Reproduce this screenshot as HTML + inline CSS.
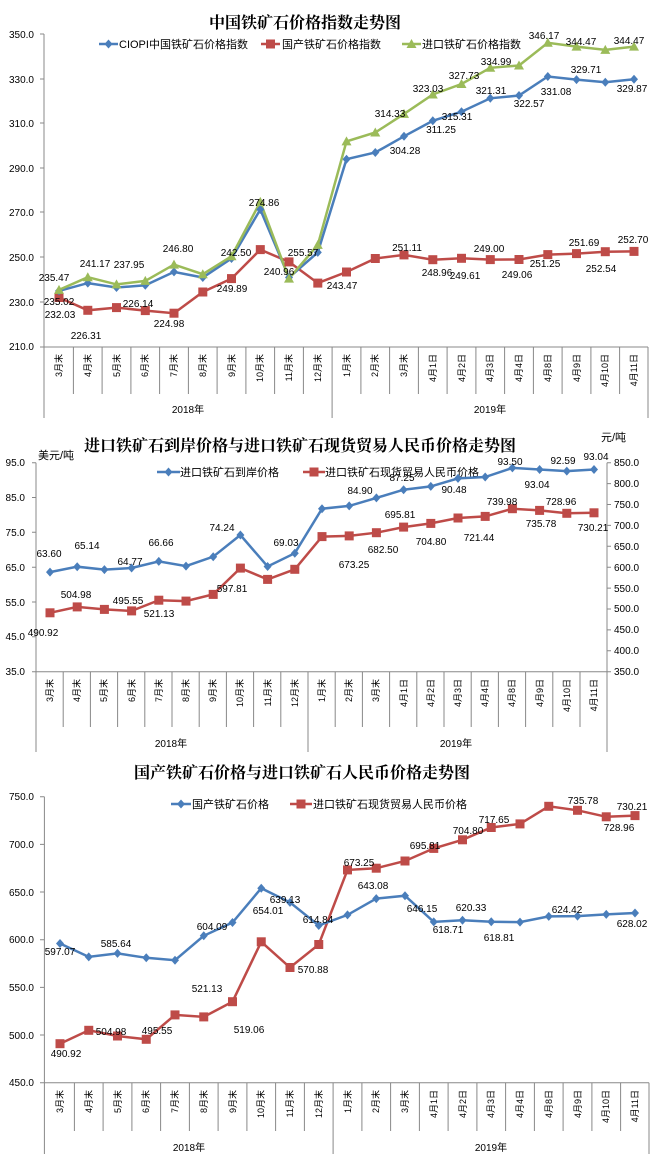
<!DOCTYPE html>
<html><head><meta charset="utf-8"><style>
body{margin:0;background:#fff}
svg{display:block}
text{font-family:"Liberation Sans","Noto Sans CJK SC",sans-serif;fill:#000}
.t{font-family:"Liberation Serif","Noto Serif CJK SC",serif;font-weight:bold;font-size:16px}
.ax{font-size:10px}
.dl{font-size:10px;text-anchor:middle}
.lg{font-size:11px}
.cat{font-size:9px;text-anchor:end}
.b{fill:none;stroke:#4a7ebb;stroke-width:2.5}
.r{fill:none;stroke:#be4b48;stroke-width:2.5}
.g{fill:none;stroke:#9bbb59;stroke-width:2.5}
.gl{stroke:#888;stroke-width:1;fill:none}
</style></head><body>
<svg width="650" height="1165" viewBox="0 0 650 1165" xmlns="http://www.w3.org/2000/svg">
<defs>
<path id="md" d="M0,-4.5L4,0L0,4.5L-4,0Z" fill="#4a7ebb"/>
<rect id="ms" x="-4.5" y="-4.5" width="9" height="9" fill="#be4b48"/>
<path id="mt" d="M0,-5L5,4L-5,4Z" fill="#9bbb59"/>
</defs>

<!-- ================= CHART 1 ================= -->
<text class="t" x="305" y="28" text-anchor="middle" font-size="17">中国铁矿石价格指数走势图</text>
<g class="ax" text-anchor="end">
<text x="34" y="38">350.0</text><text x="34" y="83">330.0</text><text x="34" y="127">310.0</text><text x="34" y="172">290.0</text><text x="34" y="216">270.0</text><text x="34" y="261">250.0</text><text x="34" y="306">230.0</text><text x="34" y="350">210.0</text>
</g>
<path class="gl" d="M40,34H44M40,79H44M40,123H44M40,168H44M40,212H44M40,257H44M40,302H44M40,347H44M44,34V418M44,347H648"/>
<path class="gl" d="M73.4,347V394M102.1,347V394M130.9,347V394M159.6,347V394M188.4,347V394M217.1,347V394M245.9,347V394M274.6,347V394M303.4,347V394M332.1,347V418M360.9,347V394M389.6,347V394M418.4,347V394M447.1,347V394M475.9,347V394M504.6,347V394M533.4,347V394M562.1,347V394M590.9,347V394M619.6,347V394M648,347V418"/>
<g class="cat">
<text transform="translate(62,354) rotate(-90)">3月末</text><text transform="translate(91,354) rotate(-90)">4月末</text><text transform="translate(120,354) rotate(-90)">5月末</text><text transform="translate(148,354) rotate(-90)">6月末</text><text transform="translate(177,354) rotate(-90)">7月末</text><text transform="translate(206,354) rotate(-90)">8月末</text><text transform="translate(235,354) rotate(-90)">9月末</text><text transform="translate(263,354) rotate(-90)">10月末</text><text transform="translate(292,354) rotate(-90)">11月末</text><text transform="translate(321,354) rotate(-90)">12月末</text><text transform="translate(350,354) rotate(-90)">1月末</text><text transform="translate(378,354) rotate(-90)">2月末</text><text transform="translate(407,354) rotate(-90)">3月末</text><text transform="translate(436,354) rotate(-90)">4月1日</text><text transform="translate(465,354) rotate(-90)">4月2日</text><text transform="translate(493,354) rotate(-90)">4月3日</text><text transform="translate(522,354) rotate(-90)">4月4日</text><text transform="translate(551,354) rotate(-90)">4月8日</text><text transform="translate(580,354) rotate(-90)">4月9日</text><text transform="translate(608,354) rotate(-90)">4月10日</text><text transform="translate(637,354) rotate(-90)">4月11日</text>
</g>
<text class="ax" x="188" y="413" text-anchor="middle">2018年</text>
<text class="ax" x="490" y="413" text-anchor="middle">2019年</text>
<!-- legend -->
<path d="M99,44H118" stroke="#4a7ebb" stroke-width="2.5"/><use href="#md" x="108.5" y="44"/><text class="lg" x="119" y="48">CIOPI中国铁矿石价格指数</text>
<path d="M261,44H280" stroke="#be4b48" stroke-width="2.5"/><use href="#ms" x="270.5" y="44"/><text class="lg" x="282" y="48">国产铁矿石价格指数</text>
<path d="M402,44H421" stroke="#9bbb59" stroke-width="2.5"/><use href="#mt" x="411.5" y="44"/><text class="lg" x="422" y="48">进口铁矿石价格指数</text>
<!-- series -->
<polyline class="r" points="59,297.5 87.8,310.3 116.5,307.6 145.3,310.6 174,313.2 202.8,292 231.5,278.6 260.3,249.6 289,261.9 317.8,283.1 346.5,272 375.3,258.5 404,254.9 432.8,259.7 461.5,258.3 490.3,259.6 519,259.5 547.8,254.6 576.5,253.6 605.3,251.7 634,251.4"/>
<polyline class="b" points="59,290.9 87.8,283.1 116.5,287.5 145.3,285.3 174,271.9 202.8,277.5 231.5,258.5 260.3,209.5 289,277.5 317.8,252.4 346.5,159.2 375.3,152.5 404,136.3 432.8,120.8 461.5,111.7 490.3,98.3 519,95.5 547.8,76.5 576.5,79.6 605.3,82.3 634,79.2"/>
<polyline class="g" points="59,289.9 87.8,277.2 116.5,284.4 145.3,280.9 174,264.6 202.8,274.2 231.5,256.3 260.3,201.9 289,278.6 317.8,244.9 346.5,141.4 375.3,132.5 404,113.9 432.8,94.5 461.5,84 490.3,67.8 519,65.5 547.8,42.8 576.5,46.6 605.3,49.9 634,46.6"/>
<g>
<use href="#ms" x="59" y="297.5"/><use href="#ms" x="87.8" y="310.3"/><use href="#ms" x="116.5" y="307.6"/><use href="#ms" x="145.3" y="310.6"/><use href="#ms" x="174" y="313.2"/><use href="#ms" x="202.8" y="292"/><use href="#ms" x="231.5" y="278.6"/><use href="#ms" x="260.3" y="249.6"/><use href="#ms" x="289" y="261.9"/><use href="#ms" x="317.8" y="283.1"/><use href="#ms" x="346.5" y="272"/><use href="#ms" x="375.3" y="258.5"/><use href="#ms" x="404" y="254.9"/><use href="#ms" x="432.8" y="259.7"/><use href="#ms" x="461.5" y="258.3"/><use href="#ms" x="490.3" y="259.6"/><use href="#ms" x="519" y="259.5"/><use href="#ms" x="547.8" y="254.6"/><use href="#ms" x="576.5" y="253.6"/><use href="#ms" x="605.3" y="251.7"/><use href="#ms" x="634" y="251.4"/>
<use href="#md" x="59" y="290.9"/><use href="#md" x="87.8" y="283.1"/><use href="#md" x="116.5" y="287.5"/><use href="#md" x="145.3" y="285.3"/><use href="#md" x="174" y="271.9"/><use href="#md" x="202.8" y="277.5"/><use href="#md" x="231.5" y="258.5"/><use href="#md" x="260.3" y="209.5"/><use href="#md" x="289" y="277.5"/><use href="#md" x="317.8" y="252.4"/><use href="#md" x="346.5" y="159.2"/><use href="#md" x="375.3" y="152.5"/><use href="#md" x="404" y="136.3"/><use href="#md" x="432.8" y="120.8"/><use href="#md" x="461.5" y="111.7"/><use href="#md" x="490.3" y="98.3"/><use href="#md" x="519" y="95.5"/><use href="#md" x="547.8" y="76.5"/><use href="#md" x="576.5" y="79.6"/><use href="#md" x="605.3" y="82.3"/><use href="#md" x="634" y="79.2"/>
<use href="#mt" x="59" y="289.9"/><use href="#mt" x="87.8" y="277.2"/><use href="#mt" x="116.5" y="284.4"/><use href="#mt" x="145.3" y="280.9"/><use href="#mt" x="174" y="264.6"/><use href="#mt" x="202.8" y="274.2"/><use href="#mt" x="231.5" y="256.3"/><use href="#mt" x="260.3" y="201.9"/><use href="#mt" x="289" y="278.6"/><use href="#mt" x="317.8" y="244.9"/><use href="#mt" x="346.5" y="141.4"/><use href="#mt" x="375.3" y="132.5"/><use href="#mt" x="404" y="113.9"/><use href="#mt" x="432.8" y="94.5"/><use href="#mt" x="461.5" y="84"/><use href="#mt" x="490.3" y="67.8"/><use href="#mt" x="519" y="65.5"/><use href="#mt" x="547.8" y="42.8"/><use href="#mt" x="576.5" y="46.6"/><use href="#mt" x="605.3" y="49.9"/><use href="#mt" x="634" y="46.6"/>
</g>
<g class="dl">
<text x="54" y="281">235.47</text><text x="95" y="267">241.17</text><text x="129" y="268">237.95</text><text x="178" y="252">246.80</text><text x="236" y="256">242.50</text><text x="264" y="206">274.86</text><text x="303" y="256">255.57</text><text x="390" y="117">314.33</text><text x="428" y="92">323.03</text><text x="464" y="79">327.73</text><text x="496" y="65">334.99</text><text x="544" y="39">346.17</text><text x="581" y="45">344.47</text><text x="629" y="44">344.47</text>
<text x="59" y="305">235.02</text><text x="60" y="318">232.03</text><text x="86" y="339">226.31</text><text x="138" y="307">226.14</text><text x="169" y="327">224.98</text><text x="232" y="292">249.89</text><text x="279" y="275">240.96</text><text x="342" y="289">243.47</text><text x="407" y="251">251.11</text><text x="489" y="252">249.00</text><text x="584" y="246">251.69</text><text x="633" y="243">252.70</text><text x="437" y="276">248.96</text><text x="465" y="279">249.61</text><text x="517" y="278">249.06</text><text x="545" y="267">251.25</text><text x="601" y="272">252.54</text>
<text x="405" y="154">304.28</text><text x="441" y="133">311.25</text><text x="457" y="120">315.31</text><text x="491" y="94">321.31</text><text x="529" y="107">322.57</text><text x="556" y="95">331.08</text><text x="586" y="73">329.71</text><text x="632" y="92">329.87</text>
</g>

<!-- ================= CHART 2 ================= -->
<text class="t" x="300" y="451" text-anchor="middle">进口铁矿石到岸价格与进口铁矿石现货贸易人民币价格走势图</text>
<text class="lg" x="38" y="459" font-size="12">美元/吨</text>
<text class="lg" x="601" y="441" font-size="12">元/吨</text>
<g class="ax" text-anchor="end">
<text x="25" y="466">95.0</text><text x="25" y="501">85.0</text><text x="25" y="536">75.0</text><text x="25" y="571">65.0</text><text x="25" y="606">55.0</text><text x="25" y="640">45.0</text><text x="25" y="675">35.0</text>
</g>
<g class="ax">
<text x="614" y="466">850.0</text><text x="614" y="487">800.0</text><text x="614" y="508">750.0</text><text x="614" y="529">700.0</text><text x="614" y="550">650.0</text><text x="614" y="571">600.0</text><text x="614" y="592">550.0</text><text x="614" y="612">500.0</text><text x="614" y="633">450.0</text><text x="614" y="654">400.0</text><text x="614" y="675">350.0</text>
</g>
<path class="gl" d="M32,462.7H36M32,497.5H36M32,532.3H36M32,567.2H36M32,602H36M32,636.8H36M32,671.7H36M36,462.7V752M607,462.7V752M607,462.7H611M607,483.6H611M607,504.5H611M607,525.4H611M607,546.3H611M607,567.2H611M607,588.1H611M607,609H611M607,629.9H611M607,650.8H611M607,671.7H611M36,671.7H607"/>
<path class="gl" d="M63.2,671.7V727M90.4,671.7V727M117.6,671.7V727M144.8,671.7V727M172,671.7V727M199.2,671.7V727M226.4,671.7V727M253.6,671.7V727M280.8,671.7V727M308,671.7V752M335.2,671.7V727M362.4,671.7V727M389.6,671.7V727M416.8,671.7V727M444,671.7V727M471.2,671.7V727M498.4,671.7V727M525.6,671.7V727M552.8,671.7V727M580,671.7V727"/>
<g class="cat">
<text transform="translate(53,679) rotate(-90)">3月末</text><text transform="translate(80,679) rotate(-90)">4月末</text><text transform="translate(107,679) rotate(-90)">5月末</text><text transform="translate(135,679) rotate(-90)">6月末</text><text transform="translate(162,679) rotate(-90)">7月末</text><text transform="translate(189,679) rotate(-90)">8月末</text><text transform="translate(216,679) rotate(-90)">9月末</text><text transform="translate(243,679) rotate(-90)">10月末</text><text transform="translate(271,679) rotate(-90)">11月末</text><text transform="translate(298,679) rotate(-90)">12月末</text><text transform="translate(325,679) rotate(-90)">1月末</text><text transform="translate(352,679) rotate(-90)">2月末</text><text transform="translate(379,679) rotate(-90)">3月末</text><text transform="translate(407,679) rotate(-90)">4月1日</text><text transform="translate(434,679) rotate(-90)">4月2日</text><text transform="translate(461,679) rotate(-90)">4月3日</text><text transform="translate(488,679) rotate(-90)">4月4日</text><text transform="translate(515,679) rotate(-90)">4月8日</text><text transform="translate(543,679) rotate(-90)">4月9日</text><text transform="translate(570,679) rotate(-90)">4月10日</text><text transform="translate(597,679) rotate(-90)">4月11日</text>
</g>
<text class="ax" x="171" y="747" text-anchor="middle">2018年</text>
<text class="ax" x="456" y="747" text-anchor="middle">2019年</text>
<path d="M157,472H180" stroke="#4a7ebb" stroke-width="2.5"/><use href="#md" x="168.5" y="472"/><text class="lg" x="180" y="476">进口铁矿石到岸价格</text>
<path d="M303,472H325" stroke="#be4b48" stroke-width="2.5"/><use href="#ms" x="314" y="472"/><text class="lg" x="325" y="476">进口铁矿石现货贸易人民币价格</text>
<polyline class="b" points="50,572.1 77.2,566.7 104.4,569.6 131.6,568 158.8,561.4 186,566.1 213.2,556.7 240.4,535 267.6,566.5 294.8,553.2 322,508.7 349.2,505.9 376.4,497.9 403.6,489.7 430.8,486.4 458,478.4 485.2,477 512.4,467.9 539.6,469.5 566.8,471.1 594,469.5"/>
<polyline class="r" points="50,612.8 77.2,606.9 104.4,609.4 131.6,610.9 158.8,600.2 186,601.1 213.2,594.4 240.4,568.1 267.6,579.4 294.8,569.3 322,536.6 349.2,535.9 376.4,532.7 403.6,527.1 430.8,523.4 458,518 485.2,516.4 512.4,508.7 539.6,510.4 566.8,513.3 594,512.8"/>
<g>
<use href="#md" x="50" y="572.1"/><use href="#md" x="77.2" y="566.7"/><use href="#md" x="104.4" y="569.6"/><use href="#md" x="131.6" y="568"/><use href="#md" x="158.8" y="561.4"/><use href="#md" x="186" y="566.1"/><use href="#md" x="213.2" y="556.7"/><use href="#md" x="240.4" y="535"/><use href="#md" x="267.6" y="566.5"/><use href="#md" x="294.8" y="553.2"/><use href="#md" x="322" y="508.7"/><use href="#md" x="349.2" y="505.9"/><use href="#md" x="376.4" y="497.9"/><use href="#md" x="403.6" y="489.7"/><use href="#md" x="430.8" y="486.4"/><use href="#md" x="458" y="478.4"/><use href="#md" x="485.2" y="477"/><use href="#md" x="512.4" y="467.9"/><use href="#md" x="539.6" y="469.5"/><use href="#md" x="566.8" y="471.1"/><use href="#md" x="594" y="469.5"/>
<use href="#ms" x="50" y="612.8"/><use href="#ms" x="77.2" y="606.9"/><use href="#ms" x="104.4" y="609.4"/><use href="#ms" x="131.6" y="610.9"/><use href="#ms" x="158.8" y="600.2"/><use href="#ms" x="186" y="601.1"/><use href="#ms" x="213.2" y="594.4"/><use href="#ms" x="240.4" y="568.1"/><use href="#ms" x="267.6" y="579.4"/><use href="#ms" x="294.8" y="569.3"/><use href="#ms" x="322" y="536.6"/><use href="#ms" x="349.2" y="535.9"/><use href="#ms" x="376.4" y="532.7"/><use href="#ms" x="403.6" y="527.1"/><use href="#ms" x="430.8" y="523.4"/><use href="#ms" x="458" y="518"/><use href="#ms" x="485.2" y="516.4"/><use href="#ms" x="512.4" y="508.7"/><use href="#ms" x="539.6" y="510.4"/><use href="#ms" x="566.8" y="513.3"/><use href="#ms" x="594" y="512.8"/>
</g>
<g class="dl">
<text x="49" y="557">63.60</text><text x="87" y="549">65.14</text><text x="130" y="565">64.77</text><text x="161" y="546">66.66</text><text x="222" y="531">74.24</text><text x="286" y="546">69.03</text><text x="360" y="494">84.90</text><text x="402" y="481">87.25</text><text x="454" y="493">90.48</text><text x="510" y="465">93.50</text><text x="537" y="488">93.04</text><text x="563" y="464">92.59</text><text x="596" y="460">93.04</text>
<text x="76" y="598">504.98</text><text x="43" y="636">490.92</text><text x="128" y="604">495.55</text><text x="159" y="617">521.13</text><text x="232" y="592">597.81</text><text x="354" y="568">673.25</text><text x="383" y="553">682.50</text><text x="400" y="518">695.81</text><text x="431" y="545">704.80</text><text x="479" y="541">721.44</text><text x="502" y="505">739.98</text><text x="541" y="527">735.78</text><text x="561" y="505">728.96</text><text x="593" y="531">730.21</text>
</g>

<!-- ================= CHART 3 ================= -->
<text class="t" x="302" y="778" text-anchor="middle">国产铁矿石价格与进口铁矿石人民币价格走势图</text>
<g class="ax" text-anchor="end">
<text x="34" y="800">750.0</text><text x="34" y="848">700.0</text><text x="34" y="896">650.0</text><text x="34" y="943">600.0</text><text x="34" y="991">550.0</text><text x="34" y="1039">500.0</text><text x="34" y="1086">450.0</text>
</g>
<path class="gl" d="M40,796.7H44.4M40,844.4H44.4M40,892H44.4M40,939.7H44.4M40,987.4H44.4M40,1035H44.4M40,1082.7H44.4M44.4,796.7V1154M44.4,1082.7H649"/>
<path class="gl" d="M74.4,1082.7V1131M103.1,1082.7V1131M131.9,1082.7V1131M160.6,1082.7V1131M189.4,1082.7V1131M218.1,1082.7V1131M246.9,1082.7V1131M275.6,1082.7V1131M304.4,1082.7V1131M333.1,1082.7V1154M361.9,1082.7V1131M390.6,1082.7V1131M419.4,1082.7V1131M448.1,1082.7V1131M476.9,1082.7V1131M505.6,1082.7V1131M534.4,1082.7V1131M563.1,1082.7V1131M591.9,1082.7V1131M620.6,1082.7V1131M649,1082.7V1154"/>
<g class="cat">
<text transform="translate(63,1090) rotate(-90)">3月末</text><text transform="translate(92,1090) rotate(-90)">4月末</text><text transform="translate(121,1090) rotate(-90)">5月末</text><text transform="translate(149,1090) rotate(-90)">6月末</text><text transform="translate(178,1090) rotate(-90)">7月末</text><text transform="translate(207,1090) rotate(-90)">8月末</text><text transform="translate(236,1090) rotate(-90)">9月末</text><text transform="translate(264,1090) rotate(-90)">10月末</text><text transform="translate(293,1090) rotate(-90)">11月末</text><text transform="translate(322,1090) rotate(-90)">12月末</text><text transform="translate(351,1090) rotate(-90)">1月末</text><text transform="translate(379,1090) rotate(-90)">2月末</text><text transform="translate(408,1090) rotate(-90)">3月末</text><text transform="translate(437,1090) rotate(-90)">4月1日</text><text transform="translate(466,1090) rotate(-90)">4月2日</text><text transform="translate(494,1090) rotate(-90)">4月3日</text><text transform="translate(523,1090) rotate(-90)">4月4日</text><text transform="translate(552,1090) rotate(-90)">4月8日</text><text transform="translate(581,1090) rotate(-90)">4月9日</text><text transform="translate(609,1090) rotate(-90)">4月10日</text><text transform="translate(638,1090) rotate(-90)">4月11日</text>
</g>
<text class="ax" x="189" y="1151" text-anchor="middle">2018年</text>
<text class="ax" x="491" y="1151" text-anchor="middle">2019年</text>
<path d="M171,804H191" stroke="#4a7ebb" stroke-width="2.5"/><use href="#md" x="181" y="804"/><text class="lg" x="192" y="808">国产铁矿石价格</text>
<path d="M290,804H312" stroke="#be4b48" stroke-width="2.5"/><use href="#ms" x="301" y="804"/><text class="lg" x="313" y="808">进口铁矿石现货贸易人民币价格</text>
<polyline class="r" points="60,1043.7 88.75,1030.3 117.5,1036 146.25,1039.3 175,1014.9 203.75,1016.9 232.5,1001.7 261.25,941.8 290,967.5 318.75,944.5 347.5,869.9 376.25,868.2 405,861 433.75,848.4 462.5,839.8 491.25,827.5 520,823.9 548.75,806.3 577.5,810.3 606.25,816.8 635,815.6"/>
<polyline class="b" points="60,943.5 88.75,956.9 117.5,953.4 146.25,957.8 175,960.2 203.75,935.8 232.5,922.5 261.25,888.2 290,902.4 318.75,925.5 347.5,914.9 376.25,898.6 405,895.7 433.75,921.9 462.5,920.3 491.25,921.8 520,922.1 548.75,916.4 577.5,916.1 606.25,914.4 635,913"/>
<g>
<use href="#ms" x="60" y="1043.7"/><use href="#ms" x="88.75" y="1030.3"/><use href="#ms" x="117.5" y="1036"/><use href="#ms" x="146.25" y="1039.3"/><use href="#ms" x="175" y="1014.9"/><use href="#ms" x="203.75" y="1016.9"/><use href="#ms" x="232.5" y="1001.7"/><use href="#ms" x="261.25" y="941.8"/><use href="#ms" x="290" y="967.5"/><use href="#ms" x="318.75" y="944.5"/><use href="#ms" x="347.5" y="869.9"/><use href="#ms" x="376.25" y="868.2"/><use href="#ms" x="405" y="861"/><use href="#ms" x="433.75" y="848.4"/><use href="#ms" x="462.5" y="839.8"/><use href="#ms" x="491.25" y="827.5"/><use href="#ms" x="520" y="823.9"/><use href="#ms" x="548.75" y="806.3"/><use href="#ms" x="577.5" y="810.3"/><use href="#ms" x="606.25" y="816.8"/><use href="#ms" x="635" y="815.6"/>
<use href="#md" x="60" y="943.5"/><use href="#md" x="88.75" y="956.9"/><use href="#md" x="117.5" y="953.4"/><use href="#md" x="146.25" y="957.8"/><use href="#md" x="175" y="960.2"/><use href="#md" x="203.75" y="935.8"/><use href="#md" x="232.5" y="922.5"/><use href="#md" x="261.25" y="888.2"/><use href="#md" x="290" y="902.4"/><use href="#md" x="318.75" y="925.5"/><use href="#md" x="347.5" y="914.9"/><use href="#md" x="376.25" y="898.6"/><use href="#md" x="405" y="895.7"/><use href="#md" x="433.75" y="921.9"/><use href="#md" x="462.5" y="920.3"/><use href="#md" x="491.25" y="921.8"/><use href="#md" x="520" y="922.1"/><use href="#md" x="548.75" y="916.4"/><use href="#md" x="577.5" y="916.1"/><use href="#md" x="606.25" y="914.4"/><use href="#md" x="635" y="913"/>
</g>
<g class="dl">
<text x="60" y="955">597.07</text><text x="116" y="947">585.64</text><text x="212" y="930">604.09</text><text x="268" y="914">654.01</text><text x="285" y="903">639.13</text><text x="318" y="923">614.84</text><text x="373" y="889">643.08</text><text x="422" y="912">646.15</text><text x="448" y="933">618.71</text><text x="471" y="911">620.33</text><text x="499" y="941">618.81</text><text x="567" y="913">624.42</text><text x="632" y="927">628.02</text>
<text x="66" y="1057">490.92</text><text x="111" y="1035">504.98</text><text x="157" y="1034">495.55</text><text x="207" y="992">521.13</text><text x="249" y="1033">519.06</text><text x="313" y="973">570.88</text><text x="359" y="866">673.25</text><text x="425" y="849">695.81</text><text x="468" y="834">704.80</text><text x="494" y="823">717.65</text><text x="583" y="804">735.78</text><text x="632" y="810">730.21</text><text x="619" y="831">728.96</text>
</g>
</svg>
</body></html>
